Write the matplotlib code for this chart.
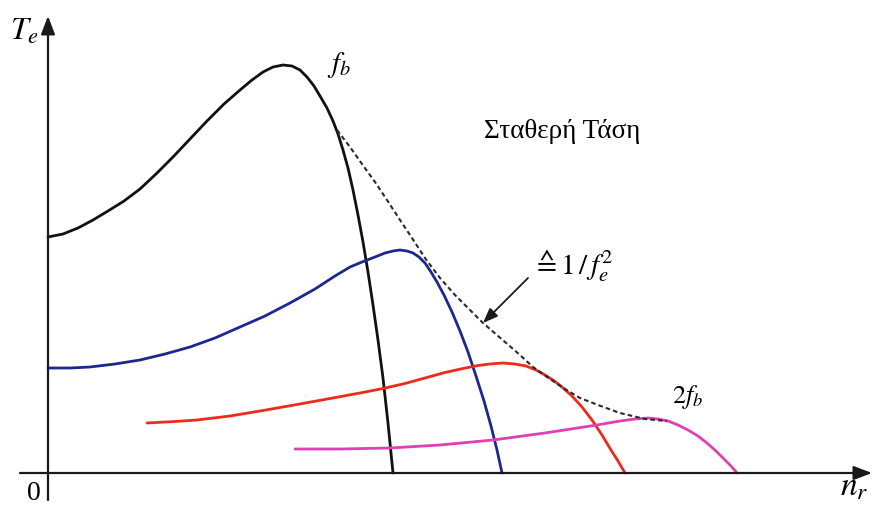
import matplotlib
matplotlib.use("Agg")
import matplotlib.pyplot as plt

plt.rcParams['mathtext.fontset'] = 'stix'
plt.rcParams['font.family'] = ['Liberation Serif', 'DejaVu Serif']

# torque-speed curves at constant voltage, base frequency f_b up to 2f_b
black_n = [0, 15, 30, 45, 60, 76, 92, 108, 125, 142, 159, 176, 192, 204, 215, 225, 235, 244,
           252, 259, 266, 272, 279, 285, 290, 295, 300, 305, 310, 315, 320, 325, 330, 335, 340, 345]
black_T = [236, 239, 245, 253, 262, 272, 284, 299, 316, 334, 352, 369, 383, 393, 401, 406, 408, 407,
           403, 396, 387, 377, 365, 352, 339, 323, 305, 283, 258, 231, 201, 168, 133, 95, 50, 0]

blue_n = [0, 22, 42, 67, 92, 117, 142, 167, 192, 217, 242, 267, 287, 302, 314, 327, 337,
          345, 352, 359, 365, 371, 377, 383, 389, 396, 404, 412, 420, 428, 436, 443, 449, 454]
blue_T = [105, 105, 106, 109, 113, 119, 126, 135, 146, 157, 170, 184, 197, 206, 211, 216, 220,
          222, 223, 222, 220, 216, 210, 201, 191, 178, 161, 142, 121, 97, 72, 47, 23, 0]

red_n = [99, 127, 149, 182, 215, 249, 282, 312, 335, 357, 377, 397, 415, 430, 442, 455, 467,
         478, 488, 497, 505, 514, 524, 534, 544, 554, 563, 570, 577]
red_T = [50, 51.5, 53, 57, 62.5, 68.5, 74.5, 80, 84.5, 89.5, 95, 100.5, 104.5, 107.5, 109, 110, 109,
         107, 103, 98, 93, 86, 77, 66, 53, 38, 23, 12, 0]

mag_n = [247, 292, 342, 392, 445, 497, 549, 572, 587, 600, 610, 620, 630, 640, 650,
         659, 668, 677, 683, 689]
mag_T = [24, 24, 25, 28, 33, 40, 48, 52, 54, 55, 54, 52, 48, 43, 37,
         30, 22, 13, 7, 0]

# envelope of the peak torques (~1/f_e^2)
env_n = [289, 302, 314, 327, 339, 352, 364, 377, 392, 407, 422, 435, 457, 472, 485,
         502, 517, 532, 550, 572, 597, 619]
env_T = [343, 326, 309, 291, 273, 253, 235, 215, 195, 178, 163, 150, 131, 118, 106,
         94, 84, 75, 68, 60, 54, 52]

fig = plt.figure(figsize=(8.72, 5.07), dpi=100)
ax = fig.add_axes([0, 0, 1, 1])
ax.set_xlim(-48, 824)
ax.set_ylim(-34, 473)
ax.axis('off')

# axes with arrow heads
ax_color = '#1a1a1a'
ax.annotate('', xy=(824, 0), xytext=(-28, 0),
            arrowprops=dict(arrowstyle='-|>,head_length=1.1,head_width=0.42',
                            lw=1.6, color=ax_color, shrinkA=0, shrinkB=0))
ax.annotate('', xy=(0, 457), xytext=(0, -27),
            arrowprops=dict(arrowstyle='-|>,head_length=1.1,head_width=0.42',
                            lw=1.6, color=ax_color, shrinkA=0, shrinkB=0))

lw = 2.0
kw = dict(lw=lw, solid_capstyle='round', solid_joinstyle='round')
ax.plot(black_n, black_T, color='#111111', **kw)
ax.plot(blue_n, blue_T, color='#1c2890', **kw)
ax.plot(red_n, red_T, color='#ee2a1a', **kw)
ax.plot(mag_n, mag_T, color='#e040b4', **kw)
ax.plot(env_n, env_T, color='#2a2a2a', lw=1.5, linestyle=(0, (2.2, 1.5)))

# labels
ax.text(-38, 433, r'$T_e$', fontsize=23, ha='left', va='baseline')
ax.text(-21, -27, '0', fontsize=20, ha='left', va='baseline')
ax.text(792, -23, r'$n_r$', fontsize=24, ha='left', va='baseline')
ax.text(279, 401, r'$f_b$', fontsize=21, ha='left', va='baseline')
ax.text(624, 70, r'$2f_b$', fontsize=19, ha='left', va='baseline')
ax.text(514, 342, 'Σταθερή Τάση', fontsize=19.5, ha='center', va='center')
ax.text(484, 199, r'$\wedgeq 1\,/\,f_e^{2}$', fontsize=21, ha='left', va='baseline')

ax.annotate('', xy=(435, 150), xytext=(480, 195),
            arrowprops=dict(arrowstyle='-|>,head_length=0.9,head_width=0.35',
                            lw=1.3, color='#1a1a1a', shrinkA=0, shrinkB=0))

fig.savefig('out.png', dpi=100)
